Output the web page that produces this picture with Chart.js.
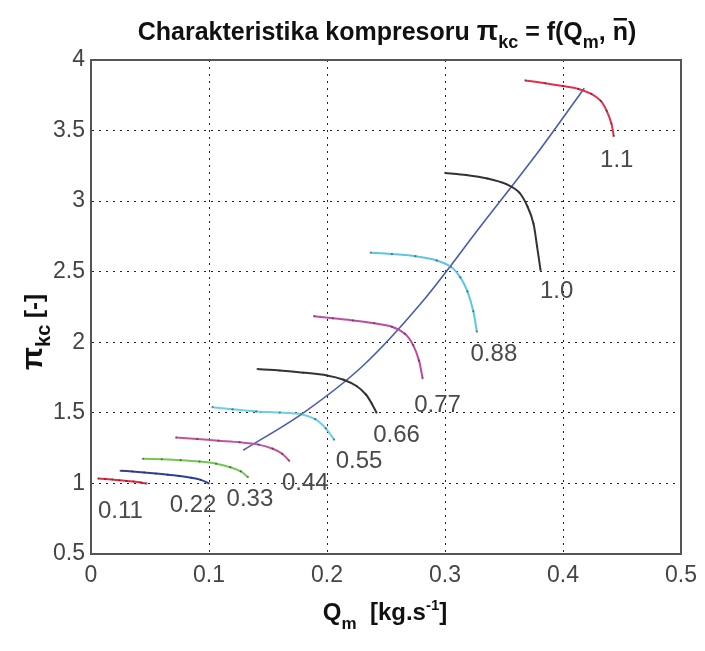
<!DOCTYPE html>
<html>
<head>
<meta charset="utf-8">
<script src="https://cdn.jsdelivr.net/npm/chart.js@4.4.1/dist/chart.umd.min.js"></script>
<style>
  html, body { margin: 0; padding: 0; background: #fff; }
  #wrap { width: 705px; height: 651px; position: relative; }
</style>
</head>
<body>
<div id="wrap"><canvas id="chart"></canvas></div>
<script>
// axis ticks
const xTicks = [0, 0.1, 0.2, 0.3, 0.4, 0.5];
const yTicks = [0.5, 1, 1.5, 2, 2.5, 3, 3.5, 4];

// relative speed n of each curve
const speeds = ['0.11', '0.22', '0.33', '0.44', '0.55', '0.66', '0.77', '0.88', '1.0', '1.1'];

// Q_m [kg/s] and pi_kc for each speed line
const q011 = [0.006, 0.012, 0.018, 0.024, 0.030, 0.036, 0.042, 0.047];
const p011 = [1.035, 1.031, 1.027, 1.022, 1.018, 1.013, 1.007, 1.000];
const q022 = [0.025, 0.035, 0.045, 0.055, 0.065, 0.075, 0.085, 0.093, 0.100];
const p022 = [1.090, 1.085, 1.078, 1.070, 1.062, 1.052, 1.040, 1.025, 1.000];
const q033 = [0.044, 0.060, 0.076, 0.092, 0.106, 0.118, 0.127, 0.133];
const p033 = [1.175, 1.171, 1.165, 1.155, 1.140, 1.115, 1.085, 1.045];
const q044 = [0.072, 0.090, 0.108, 0.126, 0.142, 0.154, 0.162, 0.168];
const p044 = [1.325, 1.315, 1.303, 1.292, 1.275, 1.246, 1.210, 1.160];
const q055 = [0.103, 0.120, 0.140, 0.160, 0.178, 0.190, 0.199, 0.206];
const p055 = [1.540, 1.525, 1.510, 1.502, 1.490, 1.455, 1.390, 1.310];
const q066 = [0.141, 0.160, 0.180, 0.200, 0.214, 0.225, 0.233, 0.238, 0.242];
const p066 = [1.810, 1.800, 1.785, 1.765, 1.735, 1.690, 1.630, 1.565, 1.500];
const q077 = [0.189, 0.205, 0.222, 0.240, 0.255, 0.266, 0.273, 0.278, 0.281];
const p077 = [2.185, 2.170, 2.155, 2.135, 2.110, 2.060, 1.980, 1.870, 1.745];
const q088 = [0.237, 0.255, 0.275, 0.293, 0.305, 0.313, 0.319, 0.324, 0.327];
const p088 = [2.635, 2.625, 2.610, 2.580, 2.535, 2.460, 2.360, 2.220, 2.075];
const q100 = [0.300, 0.318, 0.336, 0.352, 0.363, 0.370, 0.375, 0.378, 0.381];
const p100 = [3.200, 3.185, 3.160, 3.120, 3.060, 2.960, 2.840, 2.680, 2.510];
const q110 = [0.368, 0.385, 0.400, 0.413, 0.424, 0.432, 0.437, 0.441, 0.443];
const p110 = [3.855, 3.835, 3.815, 3.795, 3.760, 3.710, 3.640, 3.550, 3.460];

// surge line
const qSurge = [0.129, 0.180, 0.230, 0.280, 0.330, 0.380, 0.418];
const pSurge = [1.235, 1.500, 1.830, 2.280, 2.820, 3.360, 3.800];

const qLines = [q011, q022, q033, q044, q055, q066, q077, q088, q100, q110];
const pLines = [p011, p022, p033, p044, p055, p066, p077, p088, p100, p110];

const lineColors = ['#e8283c', '#2e3f9c', '#72c850', '#c2559a', '#6ccfe8',
                    '#333333', '#c24ba2', '#5cc6e6', '#333333', '#e0304a'];
// label offset (px) from the last point of each line
const labelDx = [-26, -16, 2, 16, 25, 20, 15, 17, 16, 3];
const labelDy = [28, 22, 22, 23, 22, 23, 27, 23, 21, 24];

const FONT = '"Liberation Sans", Arial, sans-serif';

function pts(q, p) {
    return q.map((v, i) => ({ x: v, y: p[i] }));
}

const datasets = qLines.map((q, i) => ({
    label: speeds[i],
    data: pts(q, pLines[i]),
    showLine: true,
    borderColor: lineColors[i],
    backgroundColor: 'rgba(40,40,40,0.55)',
    borderWidth: 2,
    pointRadius: 1.1,
    pointBorderWidth: 0,
    pointHoverRadius: 1.1,
    tension: 0.25
}));
datasets.push({
    label: 'surge',
    data: pts(qSurge, pSurge),
    showLine: true,
    borderColor: '#4a5cb2',
    borderWidth: 1.6,
    pointRadius: 0,
    cubicInterpolationMode: 'monotone'
});

// draws text made of parts (normal, subscript, superscript)
function drawParts(ctx, parts, x, y) {
    let w = 0;
    parts.forEach(p => {
        ctx.font = p.f;
        w += ctx.measureText(p.t).width;
    });
    let cx = x - w / 2;
    parts.forEach(p => {
        ctx.font = p.f;
        ctx.fillText(p.t, cx, y + (p.dy || 0));
        const tw = ctx.measureText(p.t).width;
        if (p.bar) {
            ctx.fillRect(cx + 1, y - 22, tw - 2, 2.5);
        }
        cx += tw;
    });
}

const decor = {
    id: 'decor',
    afterDraw(chart) {
        const ctx = chart.ctx;
        const a = chart.chartArea;
        const xs = chart.scales.x, ys = chart.scales.y;
        ctx.save();

        // box top and right
        ctx.strokeStyle = '#555';
        ctx.lineWidth = 2;
        ctx.beginPath();
        ctx.moveTo(a.left, a.top);
        ctx.lineTo(a.right, a.top);
        ctx.lineTo(a.right, a.bottom);
        ctx.stroke();

        // speed labels
        ctx.fillStyle = '#4a4a4a';
        ctx.font = '24px ' + FONT;
        ctx.textAlign = 'center';
        ctx.textBaseline = 'middle';
        qLines.forEach((q, i) => {
            const n = q.length - 1;
            const px = xs.getPixelForValue(q[n]) + labelDx[i];
            const py = ys.getPixelForValue(pLines[i][n]) + labelDy[i];
            ctx.fillText(speeds[i], px, py);
        });

        // title
        ctx.textAlign = 'left';
        ctx.textBaseline = 'alphabetic';
        ctx.fillStyle = '#111';
        drawParts(ctx, [
            { t: 'Charakteristika kompresoru ', f: 'bold 25px ' + FONT },
            { t: '\u03c0', f: 'bold 28px ' + FONT },
            { t: 'kc', f: 'bold 18px ' + FONT, dy: 8 },
            { t: ' = f(Q', f: 'bold 25px ' + FONT },
            { t: 'm', f: 'bold 18px ' + FONT, dy: 8 },
            { t: ', ', f: 'bold 25px ' + FONT },
            { t: 'n', f: 'bold 25px ' + FONT, bar: true },
            { t: ')', f: 'bold 25px ' + FONT }
        ], 387, 40);

        // x axis title
        drawParts(ctx, [
            { t: 'Q', f: 'bold 24px ' + FONT },
            { t: 'm', f: 'bold 17px ' + FONT, dy: 9 },
            { t: '  [kg.s', f: 'bold 24px ' + FONT },
            { t: '-1', f: 'bold 15px ' + FONT, dy: -10 },
            { t: ']', f: 'bold 24px ' + FONT }
        ], 385, 620);

        // y axis title
        ctx.translate(42, 332);
        ctx.rotate(-Math.PI / 2);
        drawParts(ctx, [
            { t: '\u03c0', f: 'bold 30px ' + FONT },
            { t: 'kc', f: 'bold 20px ' + FONT, dy: 8 },
            { t: ' [-]', f: 'bold 24px ' + FONT }
        ], 0, 0);

        ctx.restore();
    }
};

const ctx = document.getElementById('chart').getContext('2d');
const chart = new Chart(ctx, {
    type: 'scatter',
    data: { datasets: datasets },
    options: {
        responsive: true,
        maintainAspectRatio: false,
        animation: false,
        layout: { padding: { left: 0, top: 60, right: 22, bottom: 0 } },
        plugins: {
            legend: { display: false },
            tooltip: { enabled: false }
        },
        scales: {
            x: {
                type: 'linear',
                min: 0,
                max: 0.5,
                afterBuildTicks: s => { s.ticks = xTicks.map(v => ({ value: v })); },
                afterFit: s => { s.height = 97; },
                ticks: {
                    color: '#444',
                    font: { family: FONT, size: 23 },
                    padding: 8,
                    callback: v => String(v)
                },
                grid: { color: '#222', lineWidth: 1, drawTicks: false },
                border: { display: true, color: '#555', width: 2, dash: [2, 5] }
            },
            y: {
                type: 'linear',
                min: 0.5,
                max: 4,
                afterBuildTicks: s => { s.ticks = yTicks.map(v => ({ value: v })); },
                afterFit: s => { s.width = 91; },
                ticks: {
                    color: '#444',
                    font: { family: FONT, size: 23 },
                    padding: 6,
                    callback: v => String(v)
                },
                grid: { color: '#222', lineWidth: 1, drawTicks: false },
                border: { display: true, color: '#555', width: 2, dash: [2, 5] }
            }
        }
    },
    plugins: [decor]
});
</script>
</body>
</html>
